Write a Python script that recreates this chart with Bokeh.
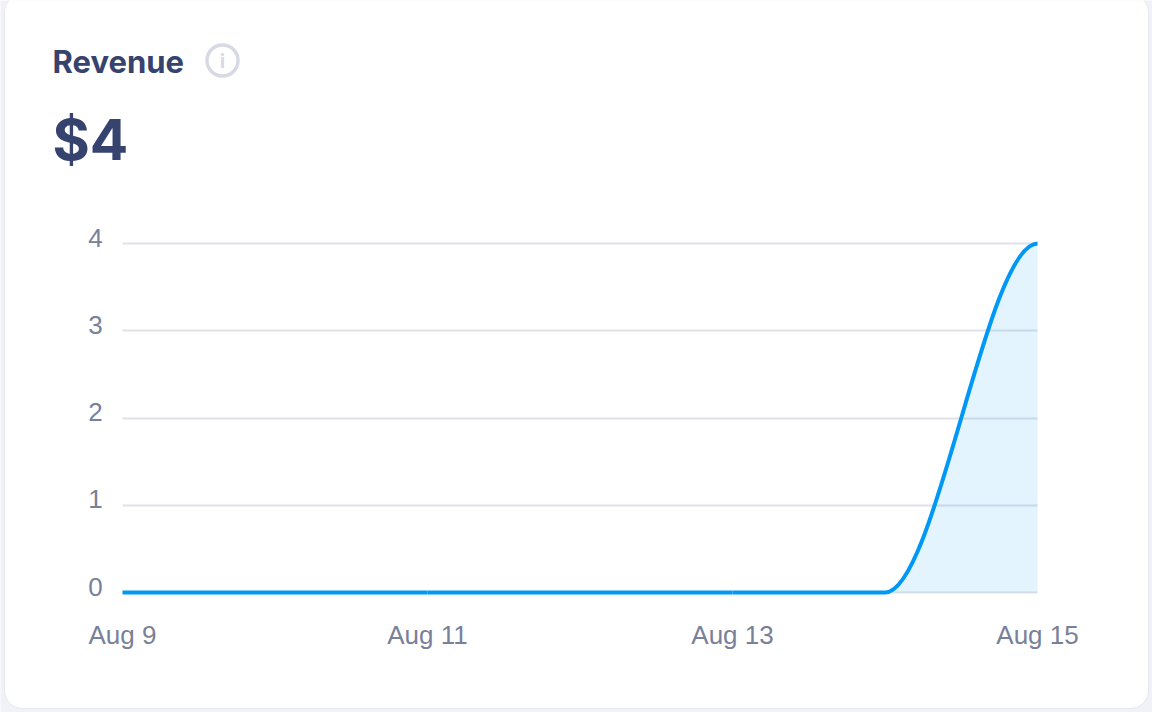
from bokeh.plotting import figure
from bokeh.embed import file_html
from bokeh.resources import INLINE
from bokeh.models import Label, BoxAnnotation, FixedTicker, Range1d
from bokeh.core.properties import value
import numpy as np

days = [9, 10, 11, 12, 13, 14, 15]
revenue = [0, 0, 0, 0, 0, 0, 4]
tick_days = [9, 11, 13, 15]
tick_labels = ["Aug 9", "Aug 11", "Aug 13", "Aug 15"]
y_ticks = [0, 1, 2, 3, 4]
y_tick_labels = ["0", "1", "2", "3", "4"]
title_text = "Revenue"
total_text = "$4"

LINE = "#0098f7"
TICK = "#78809a"
DARK = "#36436f"
PAGE = "#f1f2f7"
ICON = "#d7dae4"
W, H = 1152, 712

# The frame fills the canvas; the plot region sits at x 122..1037, y 243..592 inside it.
px_x = (1037 - 122) / (days[-1] - days[0])
px_y = (592 - 243) / (y_ticks[-1] - y_ticks[0])
x_range = Range1d(days[0] - 122 / px_x, days[-1] + (W - 1037) / px_x)
y_range = Range1d(y_ticks[0] - (H - 592) / px_y, y_ticks[-1] + 243 / px_y)

p = figure(width=W, height=H, output_backend="svg", toolbar_location=None,
           x_range=x_range, y_range=y_range,
           min_border=0, background_fill_color=PAGE, border_fill_color=PAGE,
           margin=0)
p.outline_line_color = None

p.add_layout(BoxAnnotation(left=4, right=1148, bottom=4, top=718,
                           left_units="screen", right_units="screen",
                           top_units="screen", bottom_units="screen",
                           fill_color="#ffffff", fill_alpha=1, line_color="#e6e8ef", line_alpha=1,
                           line_width=1, border_radius=18, level="image"))

p.xaxis.ticker = FixedTicker(ticks=tick_days)
p.xaxis.major_label_overrides = dict(zip(tick_days, tick_labels))
p.xaxis.fixed_location = y_ticks[0]
ax = p.xaxis[0]
ax.axis_line_color = None
ax.major_tick_line_color = None
ax.minor_tick_line_color = None
ax.major_label_text_color = TICK
ax.major_label_text_font = "Liberation Sans"
ax.major_label_text_font_size = "26px"
ax.major_label_standoff = 21
p.yaxis.visible = False
p.xgrid.visible = False
p.ygrid.ticker = FixedTicker(ticks=y_ticks)
p.ygrid.grid_line_color = "#dfe2e8"
p.ygrid.grid_line_width = 2
p.ygrid[0].cross_bounds = (days[0], days[-1])

p.text(x=[days[0]] * len(y_ticks), y=y_ticks, text=y_tick_labels, x_offset=-27, y_offset=-6,
       text_font=value("Liberation Sans"), text_font_size="26px", text_color=TICK,
       text_align="center", text_baseline="middle")

# smooth curve: flat tangents at each daily value, with x advancing evenly along the cubic
x0, y0 = np.array(days[:-1], float), np.array(revenue[:-1], float)
x1, y1 = np.array(days[1:], float), np.array(revenue[1:], float)
cx0 = x0 + (x1 - x0) / 3
cx1 = x1 - (x1 - x0) / 3
t = np.linspace(0, 1, 41)[:, None]
xs = ((1-t)**3*x0 + 3*(1-t)**2*t*cx0 + 3*(1-t)*t**2*cx1 + t**3*x1).ravel()
ys = ((1-t)**3*y0 + 3*(1-t)**2*t*y0 + 3*(1-t)*t**2*y1 + t**3*y1).ravel()
order = np.argsort(xs, kind="stable")
p.varea(xs[order], 0, ys[order], fill_color=LINE, fill_alpha=0.11)
p.bezier(x0=x0, y0=y0, x1=x1, y1=y1, cx0=cx0, cy0=y0, cx1=cx1, cy1=y1,
         line_color=LINE, line_width=4)

# header
p.add_layout(Label(x=52, y=H - 60.5, x_units="screen", y_units="screen", text=title_text,
                   text_font="Inter", text_font_size="31px", text_font_style="bold",
                   text_color=DARK, text_baseline="alphabetic"))
p.add_layout(Label(x=52, y=H - 139, x_units="screen", y_units="screen", text=total_text,
                   text_font="Inter", text_font_size="57px", text_font_style="bold",
                   text_color=DARK, text_baseline="alphabetic"))
p.add_layout(BoxAnnotation(left=206.5, right=237.5, top=H - 44.5, bottom=H - 75.5,
                           left_units="screen", right_units="screen",
                           top_units="screen", bottom_units="screen",
                           fill_alpha=0, line_color=ICON, line_alpha=1, line_width=3.5,
                           border_radius=16))
p.add_layout(Label(x=222, y=H - 60, x_units="screen", y_units="screen", text="i",
                   text_font="Inter", text_font_size="20px", text_font_style="bold", text_color=ICON,
                   text_align="center", text_baseline="middle"))

open("out.html", "w").write(file_html(p, INLINE))
